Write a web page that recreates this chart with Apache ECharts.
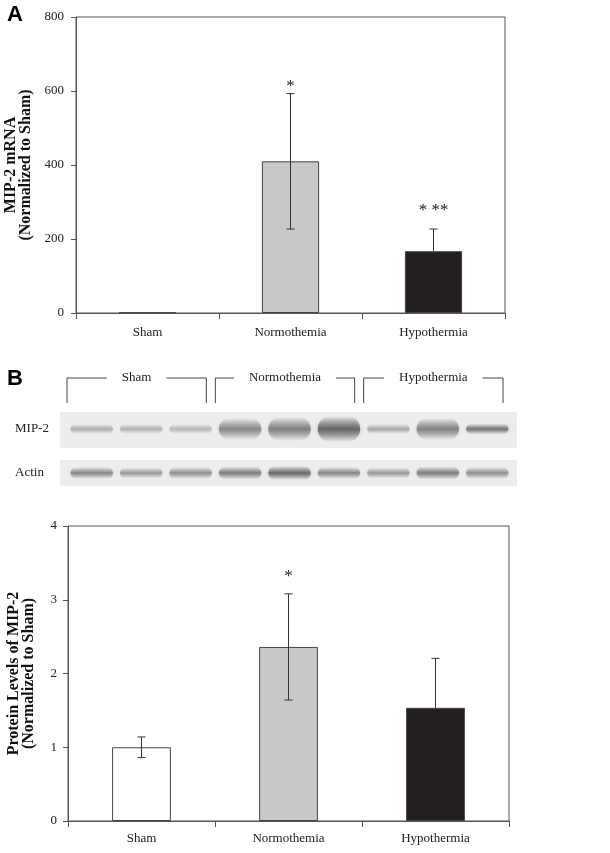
<!DOCTYPE html>
<html>
<head>
<meta charset="utf-8">
<script src="https://cdn.jsdelivr.net/npm/echarts@6/dist/echarts.min.js"></script>
<style>
html,body{margin:0;padding:0;background:#fff;}
#chart{width:610px;height:853px;}
</style>
</head>
<body>
<div id="chart"></div>
<script>
// ---------- data ----------
const categories = ['Sham', 'Normothemia', 'Hypothermia'];
const barColors = ['#ffffff', '#c8c8c8', '#231f20'];
const errorLowerVisible = [true, true, false];

// Panel A: MIP-2 mRNA (normalized to Sham)
const mrnaMean = [1, 410, 167];
const mrnaSE = [0, 183, 60];
const mrnaSig = ['', '*', '* **'];
const mrnaSigAt = [null, 611, 276];
const mrnaTicks = { min: 0, max: 800, interval: 200 };

// Panel B: protein levels of MIP-2 (normalized to Sham)
const proteinMean = [1.0, 2.36, 1.535];
const proteinSE = [0.14, 0.72, 0.67];
const proteinSig = ['', '*', ''];
const proteinSigAt = [null, 3.32, null];
const proteinTicks = { min: 0, max: 4, interval: 1 };

// Western blot (lanes 1..9, 3 per group)
const blotRows = ['MIP-2', 'Actin'];
const blotLanes = ['1', '2', '3', '4', '5', '6', '7', '8', '9'];
const laneGroups = [[0, 2, 'Sham'], [3, 5, 'Normothemia'], [6, 8, 'Hypothermia']];
const mip2Density = [0.35, 0.33, 0.30, 0.55, 0.60, 0.75, 0.38, 0.58, 0.65];
const mip2Thickness = [5, 5, 5, 17, 19, 21, 5, 17, 6];
const actinDensity = [0.55, 0.45, 0.50, 0.60, 0.72, 0.55, 0.45, 0.60, 0.50];
const actinThickness = [7, 6, 7, 8, 9, 7, 6, 8, 7];

// ---------- helpers ----------
const SERIF = '"Liberation Serif", "Times New Roman", serif';
const AXIS_COLOR = '#555';
const TEXT_COLOR = '#222';

function errorRender(params, api) {
  const i = api.value(0), m = api.value(1), s = api.value(2);
  if (!s) return null;
  const top = api.coord([i, m + s]);
  const mid = api.coord([i, m]);
  const bot = api.coord([i, m - s]);
  const hw = 4;
  const st = { stroke: '#333', lineWidth: 1 };
  const children = [
    { type: 'line', shape: { x1: top[0], y1: top[1], x2: mid[0], y2: mid[1] }, style: st },
    { type: 'line', shape: { x1: top[0] - hw, y1: top[1], x2: top[0] + hw, y2: top[1] }, style: st }
  ];
  if (errorLowerVisible[params.dataIndex]) {
    children.push({ type: 'line', shape: { x1: mid[0], y1: mid[1], x2: bot[0], y2: bot[1] }, style: st });
    children.push({ type: 'line', shape: { x1: bot[0] - hw, y1: bot[1], x2: bot[0] + hw, y2: bot[1] }, style: st });
  }
  return { type: 'group', children };
}
function sigRender(texts) {
  return function (params, api) {
    const t = texts[params.dataIndex];
    if (!t) return null;
    const p = api.coord([api.value(0), api.value(1)]);
    return {
      type: 'text',
      style: { x: p[0], y: p[1], text: t, font: '17px ' + SERIF, fill: '#222', align: 'center', verticalAlign: 'middle' }
    };
  };
}
function barData(mean) {
  return mean.map((v, i) => ({ value: v, itemStyle: { color: barColors[i] } }));
}

// blot renderers
function blotBgRender(params, api) {
  const row = api.value(1);
  const c = api.coord([0, row]);
  const cs = params.coordSys;
  const h = row === 0 ? 36 : 26;
  return { type: 'rect', shape: { x: cs.x - 7, y: c[1] - h / 2 + (row === 0 ? 1 : 0), width: cs.width + 12, height: h }, style: { fill: '#ededed' } };
}
function bandRender(params, api) {
  const lane = api.value(0), row = api.value(1), d = api.value(2), th = api.value(3);
  const c = api.coord([lane, row]);
  const bw = api.size([1, 0])[0] * 0.86;
  const h = th + 5;
  const g = new echarts.graphic.LinearGradient(0, 0, 0, 1, [
    { offset: 0, color: 'rgba(70,70,70,0)' },
    { offset: 0.5, color: 'rgba(70,70,70,' + d + ')' },
    { offset: 1, color: 'rgba(70,70,70,0)' }
  ]);
  return {
    type: 'rect',
    shape: { x: c[0] - bw / 2, y: c[1] - h / 2, width: bw, height: h, r: h / 2 },
    style: { fill: g, shadowBlur: 4, shadowColor: 'rgba(70,70,70,' + (d * 0.5) + ')' }
  };
}
function bracketRender(params, api) {
  const g = laneGroups[params.dataIndex];
  const bw = api.size([1, 0])[0];
  const a = api.coord([g[0], 0]);
  const b = api.coord([g[1], 0]);
  const x1 = a[0] - bw / 2, x2 = b[0] + bw / 2 - 9;
  const yt = a[1] - 51, yb = a[1] - 26;
  const st = { stroke: '#444', lineWidth: 1, fill: null };
  return {
    type: 'group',
    children: [
      { type: 'polyline', shape: { points: [[x1, yb], [x1, yt], [x2, yt], [x2, yb]] }, style: st },
      { type: 'text', style: { x: (x1 + x2) / 2, y: yt, text: g[2], font: '13px ' + SERIF, fill: TEXT_COLOR, align: 'center', verticalAlign: 'middle', backgroundColor: '#fff', padding: [2, 15] } }
    ]
  };
}

const bandData = [];
blotLanes.forEach((l, i) => {
  bandData.push([i, 0, mip2Density[i], mip2Thickness[i]]);
  bandData.push([i, 1, actinDensity[i], actinThickness[i]]);
});

function catAxis(gridIndex, margin) {
  return {
    type: 'category', gridIndex, data: categories,
    axisLine: { lineStyle: { color: AXIS_COLOR, width: 1 } },
    axisTick: { show: true, length: 6, lineStyle: { color: AXIS_COLOR } },
    axisLabel: { fontFamily: SERIF, fontSize: 13, color: TEXT_COLOR, margin },
    splitLine: { show: false }
  };
}
function valAxis(gridIndex, ticks, name, nameGap, margin) {
  return {
    type: 'value', gridIndex, min: ticks.min, max: ticks.max, interval: ticks.interval,
    name, nameLocation: 'middle', nameGap,
    nameTextStyle: { fontFamily: SERIF, fontSize: 16, fontWeight: 'bold', color: '#111', lineHeight: 15 },
    axisLine: { show: true, lineStyle: { color: AXIS_COLOR, width: 1 } },
    axisTick: { show: true, length: 5, lineStyle: { color: AXIS_COLOR } },
    axisLabel: { fontFamily: SERIF, fontSize: 13, color: TEXT_COLOR, margin },
    splitLine: { show: false }
  };
}

const chart = echarts.init(document.getElementById('chart'), null, { renderer: 'canvas' });
chart.setOption({
  animation: false,
  backgroundColor: '#fff',
  graphic: [
    { type: 'text', left: 7, top: 4, style: { text: 'A', font: 'bold 22px "Liberation Sans", Arial, sans-serif', fill: '#000' } },
    { type: 'text', left: 7, top: 368, style: { text: 'B', font: 'bold 22px "Liberation Sans", Arial, sans-serif', fill: '#000' } }
  ],
  grid: [
    { left: 76, top: 17, width: 429, height: 296, show: true, borderColor: AXIS_COLOR, borderWidth: 1, backgroundColor: 'transparent', containLabel: false, outerBoundsMode: 'none' },
    { left: 68, top: 526, width: 441, height: 295, show: true, borderColor: AXIS_COLOR, borderWidth: 1, backgroundColor: 'transparent', containLabel: false, outerBoundsMode: 'none' },
    { left: 67, top: 407, width: 445, height: 88, containLabel: false, outerBoundsMode: 'none' }
  ],
  xAxis: [
    catAxis(0, 13),
    catAxis(1, 11),
    { type: 'category', gridIndex: 2, data: blotLanes, show: false }
  ],
  yAxis: [
    valAxis(0, mrnaTicks, 'MIP-2 mRNA\n(Normalized to Sham)', 34, 12),
    valAxis(1, proteinTicks, 'Protein Levels of MIP-2\n(Normalized to Sham)', 32, 11),
    {
      type: 'category', gridIndex: 2, data: blotRows, inverse: true,
      axisLine: { show: false }, axisTick: { show: false }, splitLine: { show: false },
      axisLabel: { align: 'left', margin: 52, fontFamily: SERIF, fontSize: 13, color: TEXT_COLOR }
    }
  ],
  series: [
    { type: 'bar', xAxisIndex: 0, yAxisIndex: 0, barWidth: '40%', data: barData(mrnaMean),
      itemStyle: { borderColor: '#444', borderWidth: 1 } },
    { type: 'custom', xAxisIndex: 0, yAxisIndex: 0, renderItem: errorRender,
      data: categories.map((c, i) => [i, mrnaMean[i], mrnaSE[i]]), z: 5 },
    { type: 'custom', xAxisIndex: 0, yAxisIndex: 0, renderItem: sigRender(mrnaSig),
      data: categories.map((c, i) => [i, mrnaSigAt[i] == null ? 0 : mrnaSigAt[i]]), z: 5 },

    { type: 'bar', xAxisIndex: 1, yAxisIndex: 1, barWidth: '40%', data: barData(proteinMean),
      itemStyle: { borderColor: '#444', borderWidth: 1 } },
    { type: 'custom', xAxisIndex: 1, yAxisIndex: 1, renderItem: errorRender,
      data: categories.map((c, i) => [i, proteinMean[i], proteinSE[i]]), z: 5 },
    { type: 'custom', xAxisIndex: 1, yAxisIndex: 1, renderItem: sigRender(proteinSig),
      data: categories.map((c, i) => [i, proteinSigAt[i] == null ? 0 : proteinSigAt[i]]), z: 5 },

    { type: 'custom', xAxisIndex: 2, yAxisIndex: 2, renderItem: blotBgRender, data: [[0, 0], [0, 1]], z: 1, clip: false },
    { type: 'custom', xAxisIndex: 2, yAxisIndex: 2, renderItem: bandRender, data: bandData, z: 2 },
    { type: 'custom', xAxisIndex: 2, yAxisIndex: 2, renderItem: bracketRender, data: laneGroups.map(g => [g[0], 0]), z: 3, clip: false }
  ]
});
</script>
</body>
</html>
